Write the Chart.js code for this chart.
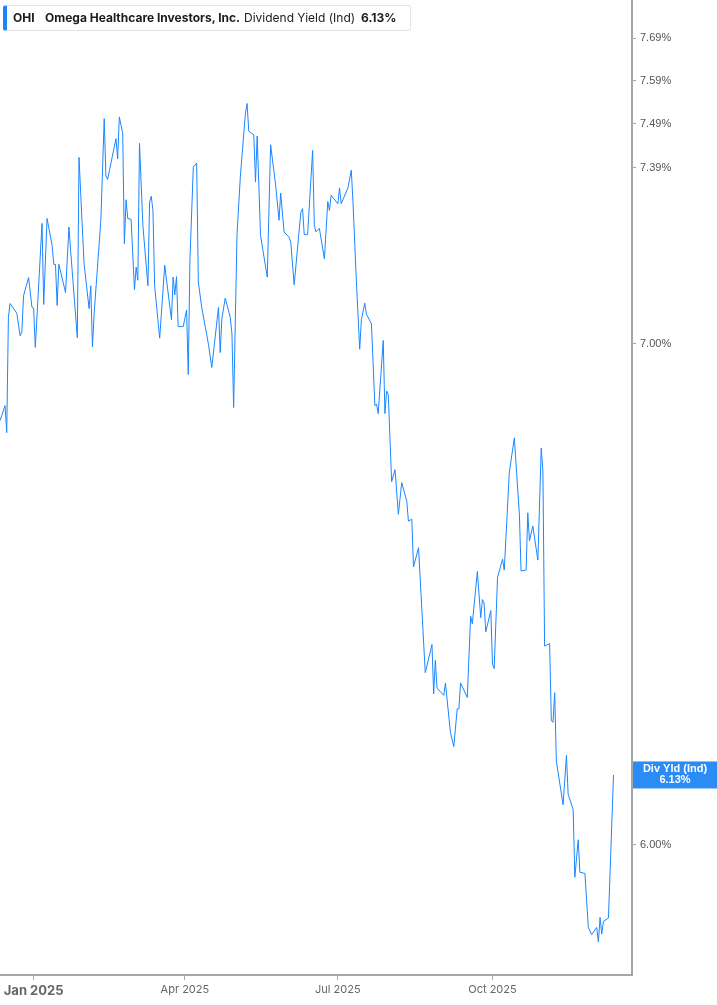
<!DOCTYPE html>
<html>
<head>
<meta charset="utf-8">
<script src="https://cdn.jsdelivr.net/npm/chart.js@4.4.1/dist/chart.umd.min.js"></script>
<style>
    html, body { margin: 0; padding: 0; background: #fff; }
    #wrap { position: relative; width: 717px; height: 1005px; }
    #yieldChart { position: absolute; left: 0; top: 0; }
    #legendBox {
        position: absolute; left: 3px; top: 5px; width: 403px; height: 24px;
        background: #fff; border: 1px solid #e4e4e4; border-left: 4px solid #1a84ff;
        border-radius: 3px; font-family: Inter, "Noto Sans", sans-serif; font-size: 12px;
        color: #1a1a1a; line-height: 24px; white-space: nowrap;
    }
    #legendBox span { position: absolute; top: 0; }
    .b { font-weight: 700; }
</style>
</head>
<body>
<div id="wrap">
    <canvas id="yieldChart" width="717" height="1005"></canvas>
    <div id="legendBox">
        <span class="b" style="left:6px">OHI</span>
        <span class="b" style="left:38px">Omega Healthcare Investors, Inc.</span>
        <span style="left:237px">Dividend Yield (Ind)</span>
        <span class="b" style="left:354px">6.13%</span>
    </div>
</div>
<script>
// days counted from 1 Jan 2025
const dayOffsets = [
    -20, -17, -16, -15, -14, -10, -8, -7, -6, -3,
    -1, 0, 1, 5, 6, 8, 11, 12, 13, 14,
    15, 19, 21, 22, 26, 27, 30, 33, 34, 35,
    36, 40, 42, 43, 44, 49, 50, 51, 53, 54,
    55, 56, 58, 60, 61, 62, 63, 65, 68, 69,
    70, 71, 72, 75, 78, 82, 83, 84, 85, 86,
    89, 91, 92, 93, 95, 97, 98, 100, 104, 106,
    110, 111, 112, 114, 117, 118, 119, 121, 123, 126,
    127, 128, 131, 132, 133, 135, 139, 141, 144, 146,
    147, 149, 152, 153, 155, 159, 160, 161, 163, 166,
    167, 168, 170, 173, 175, 176, 177, 181, 182, 183,
    187, 189, 190, 192, 194, 195, 197, 198, 201, 203,
    204, 205, 208, 209, 210, 211, 213, 215, 217, 219,
    222, 223, 225, 226, 229, 233, 237, 238, 239, 240,
    244, 245, 248, 250, 252, 253, 254, 258, 260, 261,
    264, 266, 267, 268, 269, 272, 273, 274, 276, 279,
    280, 283, 286, 289, 290, 293, 294, 295, 297, 300,
    302, 303, 304, 307, 308, 309, 310, 311, 315, 317,
    318, 321, 322, 324, 325, 328, 330, 332, 335, 336,
    337, 338, 339, 342, 345
];

// dividend yield (Ind), %
const yieldValues = [
    6.836, 6.868, 6.811, 7.057, 7.087, 7.066, 7.017, 7.025, 7.104, 7.144,
    7.079, 7.077, 6.992, 7.264, 7.085, 7.275, 7.215, 7.173, 7.173, 7.083,
    7.173, 7.111, 7.256, 7.204, 7.013, 7.413, 7.175, 7.076, 7.126, 6.993,
    7.065, 7.271, 7.502, 7.372, 7.363, 7.456, 7.410, 7.506, 7.468, 7.219,
    7.317, 7.275, 7.273, 7.117, 7.167, 7.138, 7.445, 7.260, 7.126, 7.312,
    7.325, 7.293, 7.126, 7.012, 7.171, 7.052, 7.145, 7.106, 7.146, 7.037,
    7.037, 7.073, 6.934, 7.182, 7.391, 7.400, 7.134, 7.079, 6.999, 6.949,
    7.079, 6.981, 7.054, 7.099, 7.057, 7.021, 6.864, 7.239, 7.370, 7.514,
    7.537, 7.473, 7.465, 7.357, 7.462, 7.237, 7.145, 7.442, 7.350, 7.271,
    7.332, 7.245, 7.233, 7.222, 7.128, 7.289, 7.297, 7.239, 7.239, 7.429,
    7.260, 7.245, 7.253, 7.185, 7.313, 7.293, 7.327, 7.308, 7.344, 7.308,
    7.344, 7.384, 7.312, 7.138, 6.988, 7.052, 7.088, 7.064, 7.043, 6.868,
    6.871, 6.851, 7.007, 6.851, 6.899, 6.891, 6.709, 6.734, 6.642, 6.707,
    6.669, 6.628, 6.632, 6.535, 6.574, 6.326, 6.381, 6.285, 6.350, 6.296,
    6.282, 6.306, 6.210, 6.184, 6.256, 6.256, 6.306, 6.278, 6.437, 6.422,
    6.526, 6.434, 6.470, 6.463, 6.406, 6.448, 6.343, 6.334, 6.514, 6.551,
    6.529, 6.728, 6.800, 6.642, 6.527, 6.529, 6.645, 6.588, 6.618, 6.549,
    6.779, 6.731, 6.378, 6.383, 6.234, 6.230, 6.287, 6.156, 6.074, 6.167,
    6.094, 6.065, 5.940, 6.009, 5.949, 5.947, 5.849, 5.836, 5.849, 5.823,
    5.867, 5.837, 5.860, 5.866, 6.13
];

const xTickDays = [0, 90, 181, 273];
const xTickLabels = ['Jan 2025', 'Apr 2025', 'Jul 2025', 'Oct 2025'];
const yTickValues = [6.00, 7.00, 7.39, 7.49, 7.59, 7.69];
const lastLabel = 'Div Yld (Ind)';

const LINE_BLUE = '#1a86ff';
const AXIS_GREY = '#a6a6a6';

// blue box with the latest value on the right axis
const lastValuePlugin = {
    id: 'lastValue',
    afterDraw(chart) {
        const ctx = chart.ctx;
        const yScale = chart.scales.y;
        const last = yieldValues[yieldValues.length - 1];
        const y = yScale.getPixelForValue(last);
        const left = chart.chartArea.right + 1;
        const w = chart.width - left;
        ctx.save();
        ctx.fillStyle = '#2a8cf4';
        ctx.fillRect(left, y - 13.5, w, 27);
        ctx.fillStyle = '#fff';
        ctx.font = 'bold 11px "Liberation Sans", Arial, sans-serif';
        ctx.textAlign = 'center';
        ctx.textBaseline = 'middle';
        ctx.fillText(lastLabel, left + w / 2, y - 5.5);
        ctx.fillText(last.toFixed(2) + '%', left + w / 2, y + 5.5);
        ctx.restore();
    }
};

const ctx = document.getElementById('yieldChart').getContext('2d');
new Chart(ctx, {
    type: 'line',
    data: {
        datasets: [{
            data: dayOffsets.map((d, i) => ({ x: d, y: yieldValues[i] })),
            borderColor: LINE_BLUE,
            borderWidth: 1,
            pointRadius: 0,
            tension: 0,
            fill: false
        }]
    },
    options: {
        responsive: false,
        animation: false,
        layout: { padding: 0 },
        plugins: { legend: { display: false }, tooltip: { enabled: false } },
        scales: {
            x: {
                type: 'linear',
                min: -20,
                max: 356,
                afterBuildTicks: s => { s.ticks = xTickDays.map(v => ({ value: v })); },
                afterFit: s => { s.height = 30; s.paddingLeft = 0; s.paddingRight = 0; },
                grid: { drawOnChartArea: false, tickLength: 5, color: AXIS_GREY, lineWidth: 1 },
                border: { color: AXIS_GREY, width: 2 },
                ticks: {
                    autoSkip: false,
                    maxRotation: 0,
                    padding: 3,
                    color: '#666',
                    font: c => ({
                        family: 'Inter, Roboto, sans-serif',
                        size: c.tick && c.tick.value === 0 ? 13 : 11,
                        weight: c.tick && c.tick.value === 0 ? 'bold' : 'normal'
                    }),
                    callback: v => xTickLabels[xTickDays.indexOf(v)]
                }
            },
            y: {
                type: 'logarithmic',
                position: 'right',
                min: 5.764,
                max: 7.781,
                afterBuildTicks: s => { s.ticks = yTickValues.map(v => ({ value: v })); },
                afterFit: s => { s.width = 85; s.paddingTop = 0; s.paddingBottom = 0; },
                grid: { drawOnChartArea: false, tickLength: 4, color: AXIS_GREY },
                border: { color: AXIS_GREY, width: 2 },
                ticks: {
                    padding: 4,
                    color: '#555',
                    font: { family: '"Liberation Sans", Arial, sans-serif', size: 11 },
                    callback: v => v.toFixed(2) + '%'
                }
            }
        }
    },
    plugins: [lastValuePlugin]
});
</script>
</body>
</html>
